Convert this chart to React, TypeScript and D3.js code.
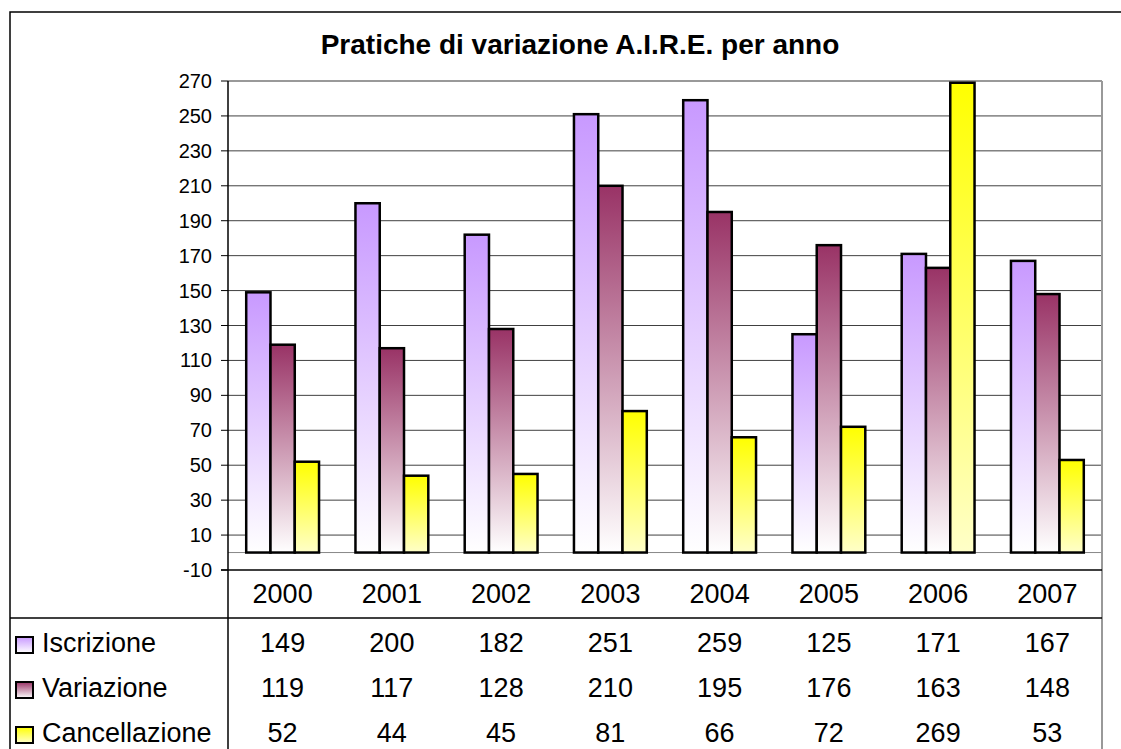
import * as d3 from 'd3';

const years = ['2000', '2001', '2002', '2003', '2004', '2005', '2006', '2007'];
const seriesNames = ['Iscrizione', 'Variazione', 'Cancellazione'];
const iscrizione = [149, 200, 182, 251, 259, 125, 171, 167];
const variazione = [119, 117, 128, 210, 195, 176, 163, 148];
const cancellazione = [52, 44, 45, 81, 66, 72, 269, 53];
const yTicks = d3.range(-10, 271, 20);

const seriesValues = [iscrizione, variazione, cancellazione];
// top colour / bottom colour of each bar gradient
const gradStops = [
  ['#c899ff', '#ffffff'],
  ['#993366', '#ffffff'],
  ['#ffff00', '#ffffc8'],
];

const W = 1121;
const H = 749;
const plotL = 228;
const plotR = 1102;
const plotT = 81;
const plotB = 570;
const font = 'Liberation Sans, Arial, sans-serif';

const App = () => {
  const x0 = d3.scaleBand().domain(years).range([plotL, plotR]);
  const x1 = d3
    .scaleBand()
    .domain(seriesNames)
    .range([0, x0.bandwidth()])
    .paddingInner(0)
    .paddingOuter(0.75);
  const y = d3.scaleLinear().domain([-10, 270]).range([plotB, plotT]);

  const rowBase = [652, 697, 742];

  return (
    <svg
      width={W}
      height={H}
      style={{ position: 'absolute', left: 0, top: 0, background: '#fff' }}
      fontFamily={font}
    >
      <defs>
        {gradStops.map((g, i) => (
          <linearGradient key={i} id={`grad${i}`} x1="0" y1="0" x2="0" y2="1">
            <stop offset="0" stopColor={g[0]} />
            <stop offset="1" stopColor={g[1]} />
          </linearGradient>
        ))}
      </defs>

      {/* outer chart border */}
      <rect x={10} y={12} width={W + 20} height={H + 20} fill="#fff" stroke="#000" strokeWidth={1.5} />

      <text x={580} y={54} textAnchor="middle" fontSize={28} fontWeight="bold">
        Pratiche di variazione A.I.R.E. per anno
      </text>

      {/* gridlines */}
      {yTicks
        .filter((t) => t > -10 && t < 270)
        .map((t) => (
          <line key={t} x1={plotL} x2={plotR} y1={y(t)} y2={y(t)} stroke="#404040" strokeWidth={1} />
        ))}
      <line x1={plotL} x2={plotR} y1={y(0)} y2={y(0)} stroke="#888" strokeWidth={1} />
      <line x1={plotL} x2={plotR} y1={y(270)} y2={y(270)} stroke="#999" strokeWidth={2} />
      <line x1={plotR} x2={plotR} y1={plotT} y2={H} stroke="#999" strokeWidth={2} />

      {/* bars */}
      {years.map((yr, i) => (
        <g key={yr} transform={`translate(${x0(yr)},0)`}>
          {seriesNames.map((s, j) => {
            const v = seriesValues[j][i];
            return (
              <rect
                key={s}
                x={x1(s)}
                y={y(v)}
                width={x1.bandwidth()}
                height={y(0) - y(v)}
                fill={`url(#grad${j})`}
                stroke="#000"
                strokeWidth={2.5}
              />
            );
          })}
        </g>
      ))}

      {/* y axis */}
      <line x1={plotL} x2={plotL} y1={plotT} y2={H} stroke="#000" strokeWidth={1.5} />
      {yTicks.map((t) => (
        <g key={t}>
          <line x1={plotL - 7} x2={plotL} y1={y(t)} y2={y(t)} stroke="#000" strokeWidth={1} />
          <text x={212} y={y(t) + 7} textAnchor="end" fontSize={20}>
            {t}
          </text>
        </g>
      ))}

      {/* category axis */}
      <line x1={plotL - 7} x2={plotR} y1={plotB} y2={plotB} stroke="#000" strokeWidth={1.5} />
      {years.map((yr) => (
        <text key={yr} x={x0(yr)! + x0.bandwidth() / 2} y={603} textAnchor="middle" fontSize={27}>
          {yr}
        </text>
      ))}

      {/* data table */}
      <line x1={10} x2={plotR} y1={618} y2={618} stroke="#000" strokeWidth={1.5} />
      {seriesNames.map((s, j) => (
        <g key={s}>
          <rect
            x={16}
            y={rowBase[j] - 15}
            width={17}
            height={16}
            fill={`url(#grad${j})`}
            stroke="#000"
            strokeWidth={2}
          />
          <text x={42} y={rowBase[j]} fontSize={27}>
            {s}
          </text>
          {years.map((yr, i) => (
            <text key={yr} x={x0(yr)! + x0.bandwidth() / 2} y={rowBase[j]} textAnchor="middle" fontSize={27}>
              {seriesValues[j][i]}
            </text>
          ))}
        </g>
      ))}
    </svg>
  );
};

export default App;
